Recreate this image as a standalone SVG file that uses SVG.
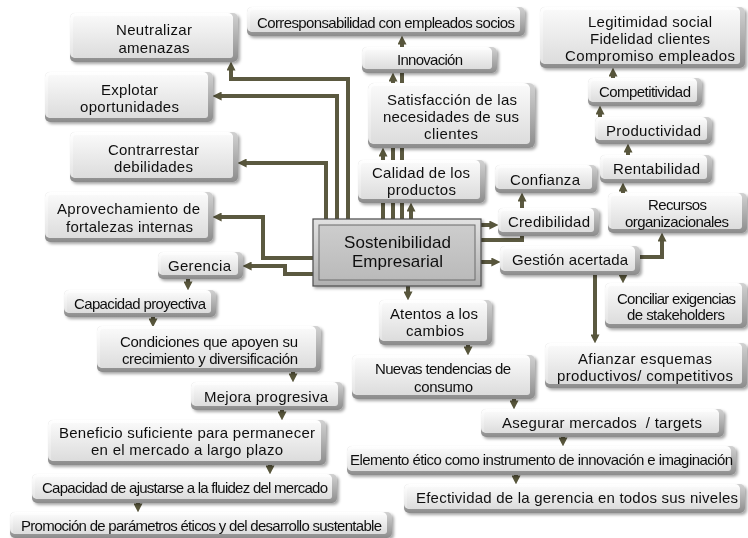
<svg xmlns="http://www.w3.org/2000/svg" width="748" height="538" viewBox="0 0 748 538">
<defs>
<style>
.o1{fill:url(#gE)}
.o2{fill:url(#gL)}
.i{fill:url(#gF)}
.node{filter:url(#sh)}
.t{font-family:"Liberation Sans",Arial,sans-serif;font-size:15px;fill:#111;text-anchor:middle}
.tc{font-family:"Liberation Sans",Arial,sans-serif;font-size:17px;fill:#111;text-anchor:middle}
.c{fill:none;stroke:#5b5940;stroke-width:4;marker-end:url(#ah)}
</style>
<linearGradient id="gE" x1="0" y1="0" x2="0" y2="1"><stop offset="0" stop-color="#d2d2d2"/><stop offset="1" stop-color="#8c8c8c"/></linearGradient>
<linearGradient id="gL" x1="0" y1="0" x2="0" y2="1"><stop offset="0" stop-color="#ffffff"/><stop offset="1" stop-color="#e4e4e4"/></linearGradient>
<linearGradient id="gF" x1="0" y1="0" x2="0" y2="1"><stop offset="0" stop-color="#f9f9f9"/><stop offset="1" stop-color="#dcdcdc"/></linearGradient>
<linearGradient id="gCo" x1="0" y1="0" x2="0" y2="1"><stop offset="0" stop-color="#e2e2e2"/><stop offset="1" stop-color="#b0b0b0"/></linearGradient>
<linearGradient id="gCi" x1="0" y1="0" x2="0" y2="1"><stop offset="0" stop-color="#cdcdcd"/><stop offset="1" stop-color="#bababa"/></linearGradient>
<filter id="sh" x="-10%" y="-20%" width="125%" height="150%"><feDropShadow dx="2" dy="2" stdDeviation="1.5" flood-color="#000" flood-opacity="0.35"/></filter>
<marker id="ah" viewBox="0 0 10 10" refX="4" refY="5" markerWidth="9" markerHeight="9" markerUnits="userSpaceOnUse" orient="auto"><path d="M0,0 L10,5 L0,10 z" fill="#57553b"/></marker>
</defs>
<rect width="748" height="538" fill="#fff"/>
<g id="connectors">
<path class="c" d="M348,219 V79 H231 V67"/>
<path class="c" d="M337,219 V96 H218"/>
<path class="c" d="M326,219 V163 H243"/>
<path class="c" d="M313,258 H263 V217 H218"/>
<path class="c" d="M313,274 H285 V266 H248"/>
<path class="c" d="M383,219 V153"/>
<path class="c" d="M393,219 V78"/>
<path class="c" d="M402,219 V41"/>
<path class="c" d="M411,219 V208"/>
<path class="c" d="M481,225 H493"/>
<path class="c" d="M481,240 H522 V198"/>
<path class="c" d="M481,262 H495"/>
<path class="c" d="M408,286 V295"/>
<path class="c" d="M640,257 H662 V238"/>
<path class="c" d="M623,275 V278"/>
<path class="c" d="M595,275 V338"/>
<path class="c" d="M623,193 V188"/>
<path class="c" d="M628,155 V149"/>
<path class="c" d="M600,117 V111"/>
<path class="c" d="M613,78 V73"/>
<path class="c" d="M468,345 V350"/>
<path class="c" d="M514,399 V404"/>
<path class="c" d="M563,437 V441"/>
<path class="c" d="M516,475 V479"/>
<path class="c" d="M188,279 V285"/>
<path class="c" d="M153,316 V322"/>
<path class="c" d="M293,372 V377"/>
<path class="c" d="M282,409 V415"/>
<path class="c" d="M270,465 V469"/>
<path class="c" d="M138,502 V507"/>
</g>
<g id="neutralizar" class="node"><rect class="o1" x="70" y="13" width="168" height="49" rx="5"/><rect class="o2" x="70" y="13" width="163" height="45" rx="5"/><rect class="i" x="73" y="16" width="160" height="42" rx="3"/>
<text class="t" x="154" y="35" textLength="76">Neutralizar</text><text class="t" x="154" y="53" textLength="71">amenazas</text></g>
<g id="explotar" class="node"><rect class="o1" x="45" y="72" width="168" height="50" rx="5"/><rect class="o2" x="45" y="72" width="163" height="46" rx="5"/><rect class="i" x="48" y="75" width="160" height="43" rx="3"/>
<text class="t" x="129.5" y="94.5" textLength="57">Explotar</text><text class="t" x="129.5" y="112" textLength="99">oportunidades</text></g>
<g id="contrarrestar" class="node"><rect class="o1" x="70" y="132" width="168" height="50" rx="5"/><rect class="o2" x="70" y="132" width="163" height="46" rx="5"/><rect class="i" x="73" y="135" width="160" height="43" rx="3"/>
<text class="t" x="153.5" y="155" textLength="91">Contrarrestar</text><text class="t" x="153.5" y="172" textLength="79">debilidades</text></g>
<g id="aprovechamiento" class="node"><rect class="o1" x="45" y="192" width="168" height="50" rx="5"/><rect class="o2" x="45" y="192" width="163" height="46" rx="5"/><rect class="i" x="48" y="195" width="160" height="43" rx="3"/>
<text class="t" x="128.5" y="214" textLength="143">Aprovechamiento de</text><text class="t" x="129.5" y="232" textLength="127">fortalezas internas</text></g>
<g id="gerencia" class="node"><rect class="o1" x="158" y="252" width="85" height="27" rx="5"/><rect class="o2" x="158" y="252" width="80" height="23" rx="5"/><rect class="i" x="161" y="255" width="77" height="20" rx="3"/>
<text class="t" x="199.5" y="271" textLength="63">Gerencia</text></g>
<g id="capacidad-proyectiva" class="node"><rect class="o1" x="64" y="290" width="152" height="27" rx="5"/><rect class="o2" x="64" y="290" width="147" height="23" rx="5"/><rect class="i" x="67" y="293" width="144" height="20" rx="3"/>
<text class="t" x="140" y="309" textLength="132">Capacidad proyectiva</text></g>
<g id="condiciones" class="node"><rect class="o1" x="97" y="326" width="224" height="46" rx="5"/><rect class="o2" x="97" y="326" width="219" height="42" rx="5"/><rect class="i" x="100" y="329" width="216" height="39" rx="3"/>
<text class="t" x="209" y="347" textLength="178">Condiciones que apoyen su</text><text class="t" x="210" y="364" textLength="176">crecimiento y diversificación</text></g>
<g id="mejora" class="node"><rect class="o1" x="191" y="382" width="152" height="28" rx="5"/><rect class="o2" x="191" y="382" width="147" height="24" rx="5"/><rect class="i" x="194" y="385" width="144" height="21" rx="3"/>
<text class="t" x="266" y="402" textLength="124">Mejora progresiva</text></g>
<g id="beneficio" class="node"><rect class="o1" x="48" y="420" width="278" height="45" rx="5"/><rect class="o2" x="48" y="420" width="273" height="41" rx="5"/><rect class="i" x="51" y="423" width="270" height="38" rx="3"/>
<text class="t" x="187" y="438" textLength="256">Beneficio suficiente para permanecer</text><text class="t" x="187" y="455" textLength="192">en el mercado a largo plazo</text></g>
<g id="ajustarse" class="node"><rect class="o1" x="32" y="474" width="305" height="29" rx="5"/><rect class="o2" x="32" y="474" width="300" height="25" rx="5"/><rect class="i" x="35" y="477" width="297" height="22" rx="3"/>
<text class="t" x="185" y="493" textLength="286">Capacidad de ajustarse a la fluidez del mercado</text></g>
<g id="promocion" class="node"><rect class="o1" x="10" y="512" width="382" height="26" rx="5"/><rect class="o2" x="10" y="512" width="377" height="22" rx="5"/><rect class="i" x="13" y="515" width="374" height="19" rx="3"/>
<text class="t" x="201.5" y="531" textLength="361">Promoción de parámetros éticos y del desarrollo sustentable</text></g>
<g id="corresponsabilidad" class="node"><rect class="o1" x="247" y="7" width="278" height="29" rx="5"/><rect class="o2" x="247" y="7" width="273" height="25" rx="5"/><rect class="i" x="250" y="10" width="270" height="22" rx="3"/>
<text class="t" x="386" y="27.5" textLength="258">Corresponsabilidad con empleados socios</text></g>
<g id="innovacion" class="node"><rect class="o1" x="362" y="47" width="135" height="26" rx="5"/><rect class="o2" x="362" y="47" width="130" height="22" rx="5"/><rect class="i" x="365" y="50" width="127" height="19" rx="3"/>
<text class="t" x="430" y="65" textLength="66">Innovación</text></g>
<g id="satisfaccion" class="node"><rect class="o1" x="368" y="83" width="167" height="65" rx="6"/><rect class="o2" x="368" y="83" width="162" height="61" rx="6"/><rect class="i" x="371" y="86" width="159" height="58" rx="4"/>
<text class="t" x="452" y="105" textLength="130">Satisfacción de las</text><text class="t" x="451" y="122" textLength="136">necesidades de sus</text><text class="t" x="451" y="139" textLength="54">clientes</text></g>
<g id="calidad" class="node"><rect class="o1" x="358" y="160" width="127" height="43" rx="5"/><rect class="o2" x="358" y="160" width="122" height="39" rx="5"/><rect class="i" x="361" y="163" width="119" height="36" rx="3"/>
<text class="t" x="421" y="178" textLength="98">Calidad de los</text><text class="t" x="421.5" y="195" textLength="69">productos</text></g>
<g id="confianza" class="node"><rect class="o1" x="495" y="165" width="102" height="28" rx="5"/><rect class="o2" x="495" y="165" width="97" height="24" rx="5"/><rect class="i" x="498" y="168" width="94" height="21" rx="3"/>
<text class="t" x="545" y="184.5" textLength="70">Confianza</text></g>
<g id="credibilidad" class="node"><rect class="o1" x="498" y="208" width="101" height="28" rx="5"/><rect class="o2" x="498" y="208" width="96" height="24" rx="5"/><rect class="i" x="501" y="211" width="93" height="21" rx="3"/>
<text class="t" x="549" y="227" textLength="82">Credibilidad</text></g>
<g id="gestion" class="node"><rect class="o1" x="500" y="246" width="140" height="29" rx="5"/><rect class="o2" x="500" y="246" width="135" height="25" rx="5"/><rect class="i" x="503" y="249" width="132" height="22" rx="3"/>
<text class="t" x="570" y="265" textLength="116">Gestión acertada</text></g>
<g id="recursos" class="node"><rect class="o1" x="608" y="193" width="139" height="40" rx="5"/><rect class="o2" x="608" y="193" width="134" height="36" rx="5"/><rect class="i" x="611" y="196" width="131" height="33" rx="3"/>
<text class="t" x="677.5" y="210" textLength="59">Recursos</text><text class="t" x="677" y="227" textLength="104">organizacionales</text></g>
<g id="rentabilidad" class="node"><rect class="o1" x="600" y="155" width="112" height="28" rx="5"/><rect class="o2" x="600" y="155" width="107" height="24" rx="5"/><rect class="i" x="603" y="158" width="104" height="21" rx="3"/>
<text class="t" x="656.5" y="174" textLength="87">Rentabilidad</text></g>
<g id="productividad" class="node"><rect class="o1" x="595" y="117" width="117" height="27" rx="5"/><rect class="o2" x="595" y="117" width="112" height="23" rx="5"/><rect class="i" x="598" y="120" width="109" height="20" rx="3"/>
<text class="t" x="653.5" y="136" textLength="95">Productividad</text></g>
<g id="competitividad" class="node"><rect class="o1" x="588" y="78" width="114" height="28" rx="5"/><rect class="o2" x="588" y="78" width="109" height="24" rx="5"/><rect class="i" x="591" y="81" width="106" height="21" rx="3"/>
<text class="t" x="645" y="97" textLength="92">Competitividad</text></g>
<g id="legitimidad" class="node"><rect class="o1" x="540" y="7" width="205" height="61" rx="5"/><rect class="o2" x="540" y="7" width="200" height="57" rx="5"/><rect class="i" x="543" y="10" width="197" height="54" rx="3"/>
<text class="t" x="650" y="27" textLength="124">Legitimidad social</text><text class="t" x="650" y="44" textLength="120">Fidelidad clientes</text><text class="t" x="650" y="61" textLength="170">Compromiso empleados</text></g>
<g id="conciliar" class="node"><rect class="o1" x="605" y="283" width="142" height="45" rx="5"/><rect class="o2" x="605" y="283" width="137" height="41" rx="5"/><rect class="i" x="608" y="286" width="134" height="38" rx="3"/>
<text class="t" x="676.5" y="304" textLength="119">Conciliar exigencias</text><text class="t" x="676" y="320" textLength="98">de stakeholders</text></g>
<g id="afianzar" class="node"><rect class="o1" x="545" y="343" width="202" height="45" rx="5"/><rect class="o2" x="545" y="343" width="197" height="41" rx="5"/><rect class="i" x="548" y="346" width="194" height="38" rx="3"/>
<text class="t" x="645" y="364" textLength="134">Afianzar esquemas</text><text class="t" x="645" y="381" textLength="176">productivos/ competitivos</text></g>
<g id="atentos" class="node"><rect class="o1" x="379" y="300" width="113" height="45" rx="5"/><rect class="o2" x="379" y="300" width="108" height="41" rx="5"/><rect class="i" x="382" y="303" width="105" height="38" rx="3"/>
<text class="t" x="434" y="319" textLength="88">Atentos a los</text><text class="t" x="435" y="336" textLength="58">cambios</text></g>
<g id="nuevas" class="node"><rect class="o1" x="352" y="355" width="183" height="44" rx="5"/><rect class="o2" x="352" y="355" width="178" height="40" rx="5"/><rect class="i" x="355" y="358" width="175" height="37" rx="3"/>
<text class="t" x="443" y="374" textLength="136">Nuevas tendencias de</text><text class="t" x="443.5" y="392" textLength="59">consumo</text></g>
<g id="asegurar" class="node"><rect class="o1" x="481" y="409" width="243" height="28" rx="5"/><rect class="o2" x="481" y="409" width="238" height="24" rx="5"/><rect class="i" x="484" y="412" width="235" height="21" rx="3"/>
<text class="t" x="602" y="428" textLength="200" xml:space="preserve">Asegurar mercados  / targets</text></g>
<g id="elemento" class="node"><rect class="o1" x="347" y="446" width="389" height="29" rx="5"/><rect class="o2" x="347" y="446" width="384" height="25" rx="5"/><rect class="i" x="350" y="449" width="381" height="22" rx="3"/>
<text class="t" x="541.5" y="465" textLength="383">Elemento ético como instrumento de innovación e imaginación</text></g>
<g id="efectividad" class="node"><rect class="o1" x="404" y="484" width="341" height="29" rx="5"/><rect class="o2" x="404" y="484" width="336" height="25" rx="5"/><rect class="i" x="407" y="487" width="333" height="22" rx="3"/>
<text class="t" x="577" y="503" textLength="322">Efectividad de la gerencia en todos sus niveles</text></g>
<g id="sostenibilidad" class="node"><rect x="313" y="219" width="168" height="67" fill="url(#gCo)" stroke="#4d4d4d" stroke-width="1.2"/><rect x="319" y="225" width="156" height="55" fill="url(#gCi)" stroke="#6a6a6a" stroke-width="1"/>
<text class="tc" x="397.5" y="248" textLength="107">Sostenibilidad</text><text class="tc" x="397.5" y="267" textLength="91">Empresarial</text></g>
</svg>
